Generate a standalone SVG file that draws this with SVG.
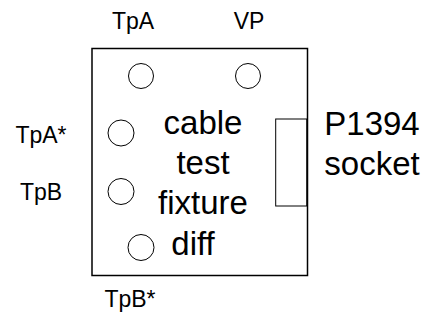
<svg xmlns="http://www.w3.org/2000/svg" width="427" height="320" viewBox="0 0 427 320">
<style>
text{font-family:"Liberation Sans",Arial,sans-serif;fill:#000}
.s{font-size:23px}
.b{font-size:33px}
.pin{fill:#fff;stroke:#000;stroke-width:1}
.box{fill:#fff;stroke:#000;stroke-width:1.5}
</style>
<rect width="427" height="320" fill="#fff"/>
<g id="fixture">
<rect class="box" x="92" y="48.5" width="215.5" height="227"/>
<text class="b" x="203" y="134" text-anchor="middle">cable</text>
<text class="b" x="203" y="174" text-anchor="middle">test</text>
<text class="b" x="203" y="214" text-anchor="middle">fixture</text>
<text class="b" x="193" y="255" text-anchor="middle">diff</text>
</g>
<g id="socket">
<rect x="275.7" y="119" width="31" height="87" fill="#fff" stroke="#000" stroke-width="1"/>
<text class="b" x="372" y="135" text-anchor="middle">P1394</text>
<text class="b" x="372" y="175" text-anchor="middle">socket</text>
</g>
<g id="pin-TpA">
<circle class="pin" cx="141" cy="76" r="12.5"/>
<text class="s" x="133" y="29" text-anchor="middle">TpA</text>
</g>
<g id="pin-VP">
<circle class="pin" cx="248" cy="76" r="12.5"/>
<text class="s" x="249" y="29" text-anchor="middle">VP</text>
</g>
<g id="pin-TpAstar">
<circle class="pin" cx="121" cy="133" r="13"/>
<text class="s" x="41" y="143" text-anchor="middle">TpA*</text>
</g>
<g id="pin-TpB">
<circle class="pin" cx="121" cy="191.5" r="13"/>
<text class="s" x="41" y="200" text-anchor="middle">TpB</text>
</g>
<g id="pin-TpBstar">
<circle class="pin" cx="141" cy="247.5" r="13"/>
<text class="s" x="130" y="307" text-anchor="middle">TpB*</text>
</g>
<g id="connectors"/>
</svg>
